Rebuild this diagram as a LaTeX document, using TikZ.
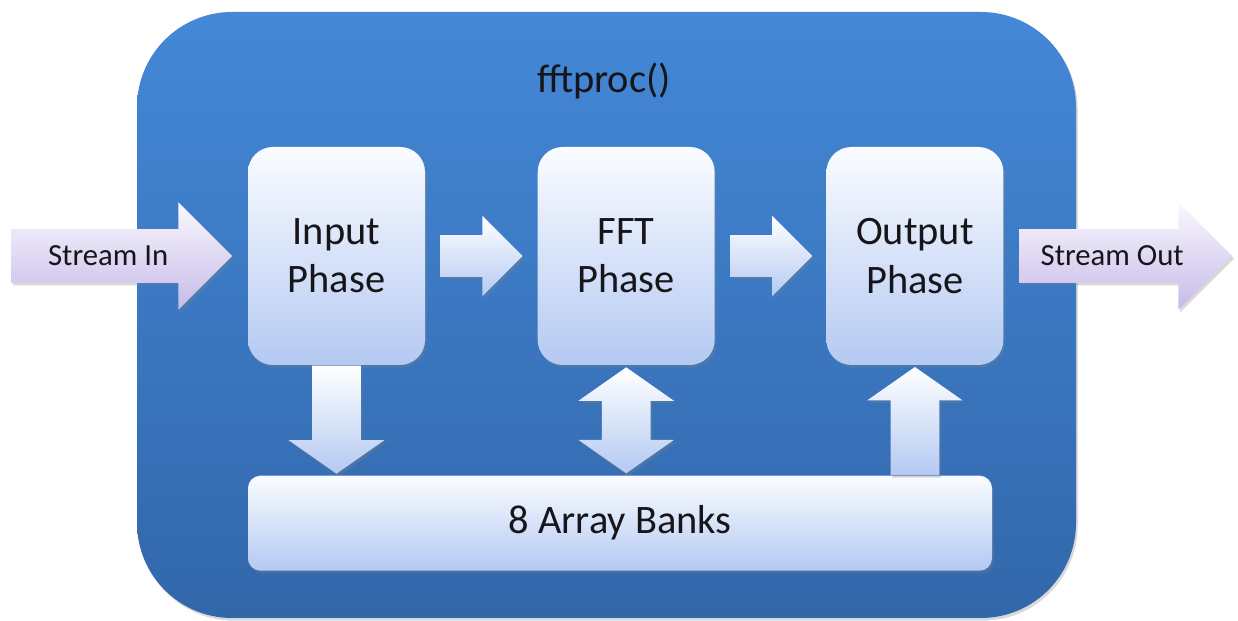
\documentclass[tikz,border=0pt]{standalone}
\usepackage{fontspec}
\setmainfont{Carlito}
\usetikzlibrary{positioning,calc,shapes.arrows,shadows}
\definecolor{procTop}{RGB}{68,136,215}
\definecolor{procBot}{RGB}{50,103,170}
\definecolor{boxTop}{RGB}{250,252,255}
\definecolor{boxBot}{RGB}{180,201,242}
\definecolor{streamTop}{RGB}{250,248,254}
\definecolor{streamBot}{RGB}{198,186,232}
\definecolor{txt}{RGB}{22,22,26}
\tikzset{
    softshadow/.style={drop shadow={opacity=0.3, shadow xshift=1pt, shadow yshift=-1.5pt}},
    procbox/.style={rounded corners=1.9cm, top color=procTop, bottom color=procBot,
      minimum width=18.78cm, minimum height=12.12cm, softshadow},
    phasebox/.style={rounded corners=0.5cm, top color=boxTop, bottom color=boxBot,
      minimum width=3.54cm, minimum height=4.36cm, align=center, text=txt,
      font=\fontsize{23}{27.5}\selectfont, softshadow},
    bankbox/.style={rounded corners=0.25cm, top color=boxTop, bottom color=boxBot,
      minimum width=14.88cm, minimum height=1.9cm, text=txt,
      font=\fontsize{23}{27.5}\selectfont, softshadow},
    streamarrow/.style={single arrow, single arrow head extend=0.54cm,
      minimum height=#1, text height=0.4cm, text depth=0pt, inner ysep=0.33cm, inner xsep=2pt,
      top color=streamTop, bottom color=streamBot,
      text=txt, font=\fontsize{17.5}{20}\selectfont, softshadow},
    flowarrow/.style={single arrow, single arrow head extend=0.39cm, anchor=tail,
      minimum height=1.64cm, inner sep=0.41cm, top color=white, bottom color=boxBot, softshadow},
    busarrow/.style={single arrow, single arrow head extend=0.47cm, single arrow tip angle=110,
      anchor=tail, minimum height=2.16cm, inner sep=0.48cm,
      top color=white, bottom color=boxBot, softshadow},
    busdouble/.style={double arrow, double arrow head extend=0.47cm, double arrow tip angle=110,
      minimum height=2.12cm, inner sep=0.48cm,
      top color=white, bottom color=boxBot, softshadow},
  }
\begin{document}
\begin{tikzpicture}
  \useasboundingbox (0,0) rectangle (24.76,12.42);
  % fftproc() container
  \node[procbox] (proc) at (12.13,6.12) {};
  \node[anchor=base, text=txt, font=\fontsize{23}{27.5}\selectfont] (title) at (12.08,10.56) {fftproc()};
  % the three phases
  \node[phasebox] (inp) at (6.73,7.3) {Input\\Phase};
  \node[phasebox, right=2.24cm of inp] (fft) {FFT\\Phase};
  \node[phasebox, right=2.22cm of fft] (outp) {Output\\Phase};
  \node[bankbox, anchor=north west] (bank) at ($(inp.south west)+(0,-2.2)$) {8 Array Banks};
  % streams
  \node[streamarrow=4.42cm, left=0.3cm of inp] (sin) {Stream In};
  \node[streamarrow=4.26cm, right=0.3cm of outp] (sout) {Stream Out};
  % phase to phase
  \node[flowarrow] (i2f) at ($(inp.east)+(0.3,0)$) {};
  \node[flowarrow] (f2o) at ($(fft.east)+(0.3,0)$) {};
  % phases and banks
  \node[busarrow, shape border rotate=270] (i2b) at (inp.south) {};
  \node[busdouble, shape border rotate=90] (f2b) at ($(fft.south)!.5!(fft.south |- bank.north)$) {};
  \node[busarrow, shape border rotate=90] (b2o) at (outp.south |- bank.north) {};
\end{tikzpicture}
\end{document}
